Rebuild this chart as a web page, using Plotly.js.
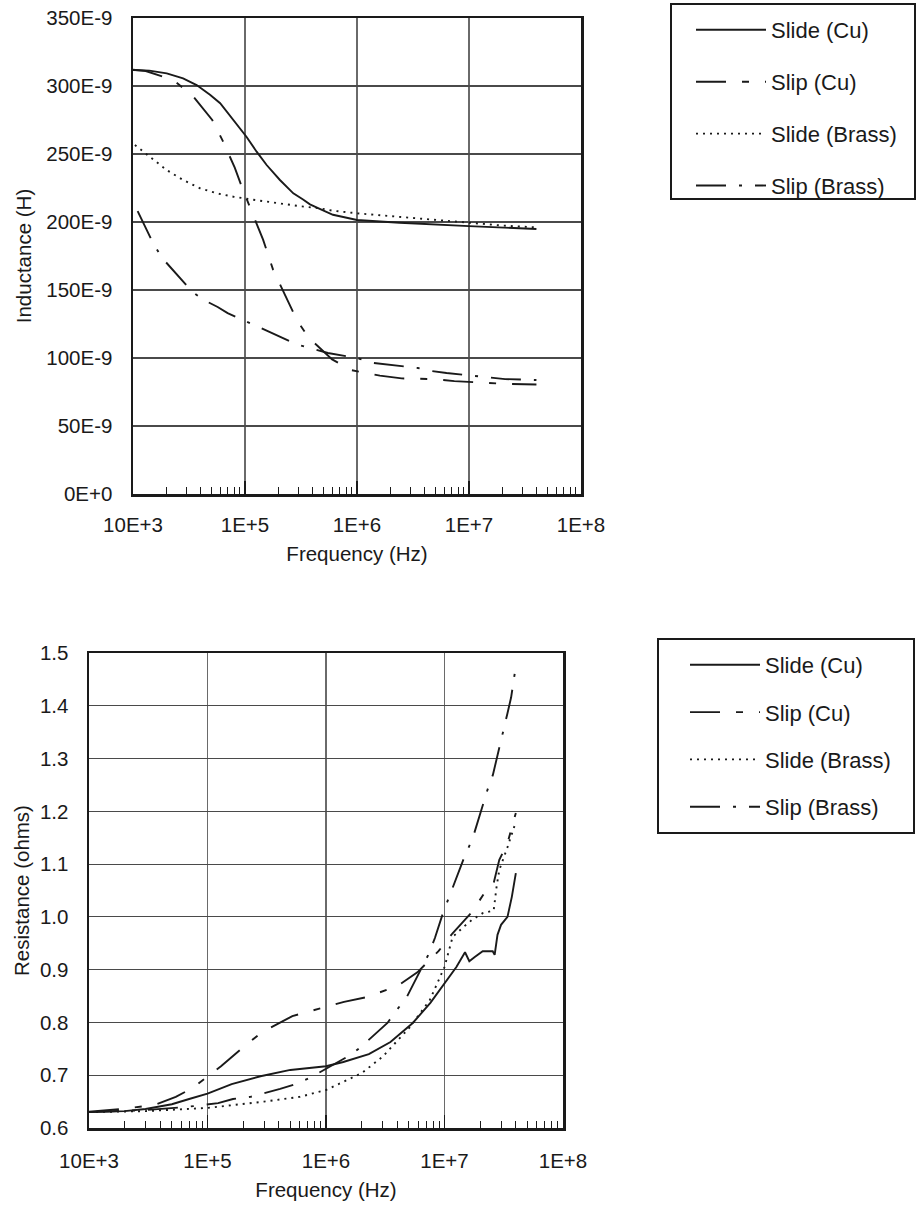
<!DOCTYPE html>
<html>
<head>
<meta charset="utf-8">
<script src="https://cdn.plot.ly/plotly-3.0.1.min.js"></script>
<style>html,body{margin:0;padding:0;background:#fff}</style>
</head>
<body>
<div id="chart" style="width:921px;height:1205px"></div>
<script>
// ---------- series names ----------
const seriesNames = ['Slide (Cu)', 'Slip (Cu)', 'Slide (Brass)', 'Slip (Brass)'];

// ---------- Inductance (H) vs frequency (Hz) ----------
const indSlideCuF = [1e4, 1.4e4, 2e4, 2.8e4, 3.7e4, 4.9e4, 6e4, 7.9e4, 1.03e5, 1.27e5, 1.56e5, 2.05e5, 2.7e5, 3.3e5, 3.8e5, 4.7e5, 6.1e5, 1e6, 2.4e6, 1e7, 4e7];
const indSlideCuL = [311.8e-9, 311.3e-9, 309.3e-9, 305.6e-9, 300.7e-9, 293.4e-9, 287.3e-9, 275e-9, 262.7e-9, 251.7e-9, 241.9e-9, 230.9e-9, 221.1e-9, 216.5e-9, 213e-9, 209.5e-9, 205.3e-9, 201.5e-9, 199.5e-9, 197e-9, 194.8e-9];

const indSlipCuF = [1e4, 1.3e4, 2e4, 2.4e4, 3.4e4, 5.1e4, 6.3e4, 8.1e4, 9.6e4, 1.23e5, 1.45e5, 1.78e5, 2.2e5, 2.9e5, 3.7e5, 6e5, 9e5, 1.6e6, 2.5e6, 4.8e6, 7.4e6, 1.36e7, 2.1e7, 4e7];
const indSlipCuL = [312e-9, 311e-9, 306e-9, 303e-9, 293e-9, 275e-9, 260e-9, 240e-9, 223.5e-9, 201e-9, 187e-9, 165e-9, 148.5e-9, 128e-9, 115e-9, 99e-9, 91e-9, 87e-9, 85e-9, 84.5e-9, 83e-9, 81.6e-9, 81e-9, 80.5e-9];

const indSlideBrassF = [1.04e4, 1.42e4, 2e4, 2.8e4, 3.96e4, 5.6e4, 7.9e4, 1.11e5, 1.56e5, 2.2e5, 3.1e5, 4.7e5, 6.1e5, 1e6, 2.4e6, 4.8e6, 1e7, 1.9e7, 4e7];
const indSlideBrassL = [256.6e-9, 248e-9, 238.2e-9, 230.9e-9, 224.8e-9, 221.1e-9, 218.6e-9, 216.7e-9, 214.9e-9, 213.2e-9, 211.6e-9, 210e-9, 208.3e-9, 206.4e-9, 203.9e-9, 202e-9, 199.5e-9, 197.5e-9, 196e-9];

const indSlipBrassF = [1.1e4, 1.5e4, 1.8e4, 2.2e4, 3.4e4, 4.3e4, 5.7e4, 7e4, 9.6e4, 1.3e5, 1.67e5, 2.9e5, 5.5e5, 1e6, 1.36e6, 3.5e6, 4.7e6, 6.3e6, 1.15e7, 1.57e7, 2.1e7, 4e7];
const indSlipBrassL = [208e-9, 185e-9, 174e-9, 166e-9, 148.5e-9, 142.6e-9, 137.5e-9, 133e-9, 128e-9, 123.5e-9, 119e-9, 110e-9, 103.7e-9, 100e-9, 96.5e-9, 92.6e-9, 90.4e-9, 89e-9, 86.8e-9, 86e-9, 84.5e-9, 83.8e-9];

// ---------- Resistance (ohms) vs frequency (Hz) ----------
const resSlideCuF = [1e4, 2e4, 3e4, 5e4, 7e4, 1e5, 1.6e5, 2.8e5, 5e5, 1e6, 1.4e6, 2.3e6, 3.5e6, 5.4e6, 7.6e6, 1e7, 1.26e7, 1.49e7, 1.62e7, 1.8e7, 2.1e7, 2.55e7, 2.65e7, 2.8e7, 3.0e7, 3.4e7, 3.7e7, 4e7];
const resSlideCuR = [0.630, 0.632, 0.636, 0.645, 0.655, 0.665, 0.683, 0.698, 0.710, 0.717, 0.725, 0.740, 0.763, 0.799, 0.837, 0.875, 0.905, 0.933, 0.916, 0.924, 0.935, 0.935, 0.928, 0.966, 0.985, 1.000, 1.038, 1.083];

const resSlipCuF = [1e4, 1.9e4, 3.6e4, 5.4e4, 7.5e4, 1.3e5, 2.1e5, 2.9e5, 5.2e5, 7.8e5, 1.42e6, 2.2e6, 4e6, 5.9e6, 8.9e6, 1.17e7, 1.7e7, 2.2e7, 2.6e7, 2.9e7, 3.4e7, 4e7];
const resSlipCuR = [0.631, 0.636, 0.644, 0.659, 0.676, 0.717, 0.757, 0.782, 0.812, 0.823, 0.839, 0.848, 0.869, 0.895, 0.935, 0.969, 1.009, 1.047, 1.064, 1.108, 1.140, 1.197];

const resSlideBrassF = [1e4, 3e4, 1e5, 3e5, 6e5, 1e6, 2e6, 3e6, 5.1e6, 7.5e6, 1e7, 1.17e7, 1.45e7, 1.7e7, 2.1e7, 2.6e7, 2.75e7, 2.9e7, 3.4e7, 3.8e7, 4e7];
const resSlideBrassR = [0.630, 0.632, 0.638, 0.650, 0.659, 0.672, 0.704, 0.735, 0.791, 0.842, 0.905, 0.962, 0.981, 0.994, 1.007, 1.012, 1.057, 1.089, 1.132, 1.165, 1.18];

const resSlipBrassF = [1e4, 3e4, 6.7e4, 1.23e5, 1.64e5, 2.3e5, 4.1e5, 5.5e5, 7.3e5, 1.23e6, 1.66e6, 2.05e6, 3.3e6, 4e6, 4.8e6, 7.3e6, 8.3e6, 9.7e6, 1.44e7, 1.74e7, 1.92e7, 2.3e7, 2.56e7, 2.77e7, 3.2e7, 3.4e7, 3.65e7, 4e7];
const resSlipBrassR = [0.630, 0.634, 0.640, 0.647, 0.655, 0.659, 0.674, 0.683, 0.695, 0.723, 0.740, 0.757, 0.799, 0.825, 0.848, 0.928, 0.960, 1.007, 1.108, 1.151, 1.183, 1.240, 1.269, 1.300, 1.358, 1.386, 1.416, 1.475];

// ---------- tick labels ----------
const freqTickVals = [1e4, 1e5, 1e6, 1e7, 1e8];
const freqTickText = ['10E+3', '1E+5', '1E+6', '1E+7', '1E+8'];
const indTickVals = [0, 50e-9, 100e-9, 150e-9, 200e-9, 250e-9, 300e-9, 350e-9];
const indTickText = ['0E+0', '50E-9', '100E-9', '150E-9', '200E-9', '250E-9', '300E-9', '350E-9'];

// ---------- styles ----------
const dashes = ['solid', '30px,16px,7px,16px', '2px,5px', '30px,13px,3px,13px'];
const INK = '#1a1a1a';

const indSets = [[indSlideCuF, indSlideCuL], [indSlipCuF, indSlipCuL], [indSlideBrassF, indSlideBrassL], [indSlipBrassF, indSlipBrassL]];
const resSets = [[resSlideCuF, resSlideCuR], [resSlipCuF, resSlipCuR], [resSlideBrassF, resSlideBrassR], [resSlipBrassF, resSlipBrassR]];

const traces = [];
indSets.forEach((s, i) => traces.push({
  x: s[0], y: s[1], type: 'scatter', mode: 'lines', name: seriesNames[i],
  xaxis: 'x', yaxis: 'y', legend: 'legend', legendgroup: 'a' + i,
  line: {color: INK, width: 1.9, dash: dashes[i]}
}));
resSets.forEach((s, i) => traces.push({
  x: s[0], y: s[1], type: 'scatter', mode: 'lines', name: seriesNames[i],
  xaxis: 'x2', yaxis: 'y2', legend: 'legend2', legendgroup: 'b' + i,
  line: {color: INK, width: 1.9, dash: dashes[i]}
}));

const W = 921, H = 1205;
const FONT = 'Liberation Sans, Arial, Helvetica, sans-serif';

function xAxis(domain, anchor, standoff) {
  return {
    type: 'log', range: [4, 8], domain: domain, anchor: anchor,
    tickmode: 'array', tickvals: freqTickVals, ticktext: freqTickText,
    ticks: 'inside', ticklen: 13, tickwidth: 1.5, tickcolor: INK,
    showgrid: true, gridcolor: '#6a6a6a', gridwidth: 1.2,
    showline: true, linecolor: INK, linewidth: 2.5, mirror: true, zeroline: false,
    minor: {ticks: 'inside', ticklen: 7, tickwidth: 1, tickcolor: INK, dtick: 'D1', showgrid: false},
    ticklabelstandoff: standoff,
    title: {text: 'Frequency (Hz)', standoff: 12, font: {size: 20.5}},
    automargin: false, fixedrange: true
  };
}
function yAxisBase(domain, anchor) {
  return {
    domain: domain, anchor: anchor,
    ticks: '', showgrid: true, gridcolor: '#4a4a4a', gridwidth: 1.2,
    showline: true, linecolor: INK, linewidth: 2.5, mirror: true, zeroline: false,
    ticklabelstandoff: 14, automargin: false, fixedrange: true
  };
}

const yaxis = Object.assign(yAxisBase([1 - 494 / H, 1 - 18 / H], 'x'), {
  range: [0, 350e-9], tickmode: 'array', tickvals: indTickVals, ticktext: indTickText,
  title: {text: 'Inductance (H)', standoff: 9, font: {size: 20.5}}
});
const yaxis2 = Object.assign(yAxisBase([1 - 1128 / H, 1 - 653 / H], 'x2'), {
  range: [0.6, 1.5], dtick: 0.1, tick0: 0.6, tickformat: '.1f',
  title: {text: 'Resistance (ohms)', standoff: 5, font: {size: 20.5}}
});

const legendBase = {
  xanchor: 'left', yanchor: 'top', bgcolor: 'rgba(0,0,0,0)', borderwidth: 0,
  font: {size: 22, family: FONT, color: INK}, traceorder: 'grouped', itemwidth: 70,
  itemclick: false, itemdoubleclick: false
};

// legend frames (paper coordinates)
function frame(x0, y0, x1, y1) {
  return {type: 'rect', xref: 'paper', yref: 'paper', x0: x0 / W, x1: x1 / W, y0: 1 - y1 / H, y1: 1 - y0 / H,
          line: {color: INK, width: 2}, fillcolor: 'rgba(0,0,0,0)', layer: 'above'};
}

const layout = {
  width: W, height: H,
  margin: {l: 0, r: 0, t: 0, b: 0},
  paper_bgcolor: 'white', plot_bgcolor: 'white',
  font: {family: FONT, size: 20.5, color: INK},
  showlegend: true,
  xaxis: xAxis([133 / W, 581 / W], 'y', 11),
  yaxis: yaxis,
  xaxis2: xAxis([89 / W, 563 / W], 'y2', 13),
  yaxis2: yaxis2,
  legend: Object.assign({}, legendBase, {x: 691 / W, y: 1 - 9 / H, tracegroupgap: 20.3}),
  legend2: Object.assign({}, legendBase, {x: 685 / W, y: 1 - 644 / H, tracegroupgap: 15.7}),
  shapes: [frame(671, 4, 915, 199), frame(658, 639, 914, 833)]
};

Plotly.newPlot('chart', traces, layout, {displayModeBar: false, staticPlot: true});
</script>
</body>
</html>
